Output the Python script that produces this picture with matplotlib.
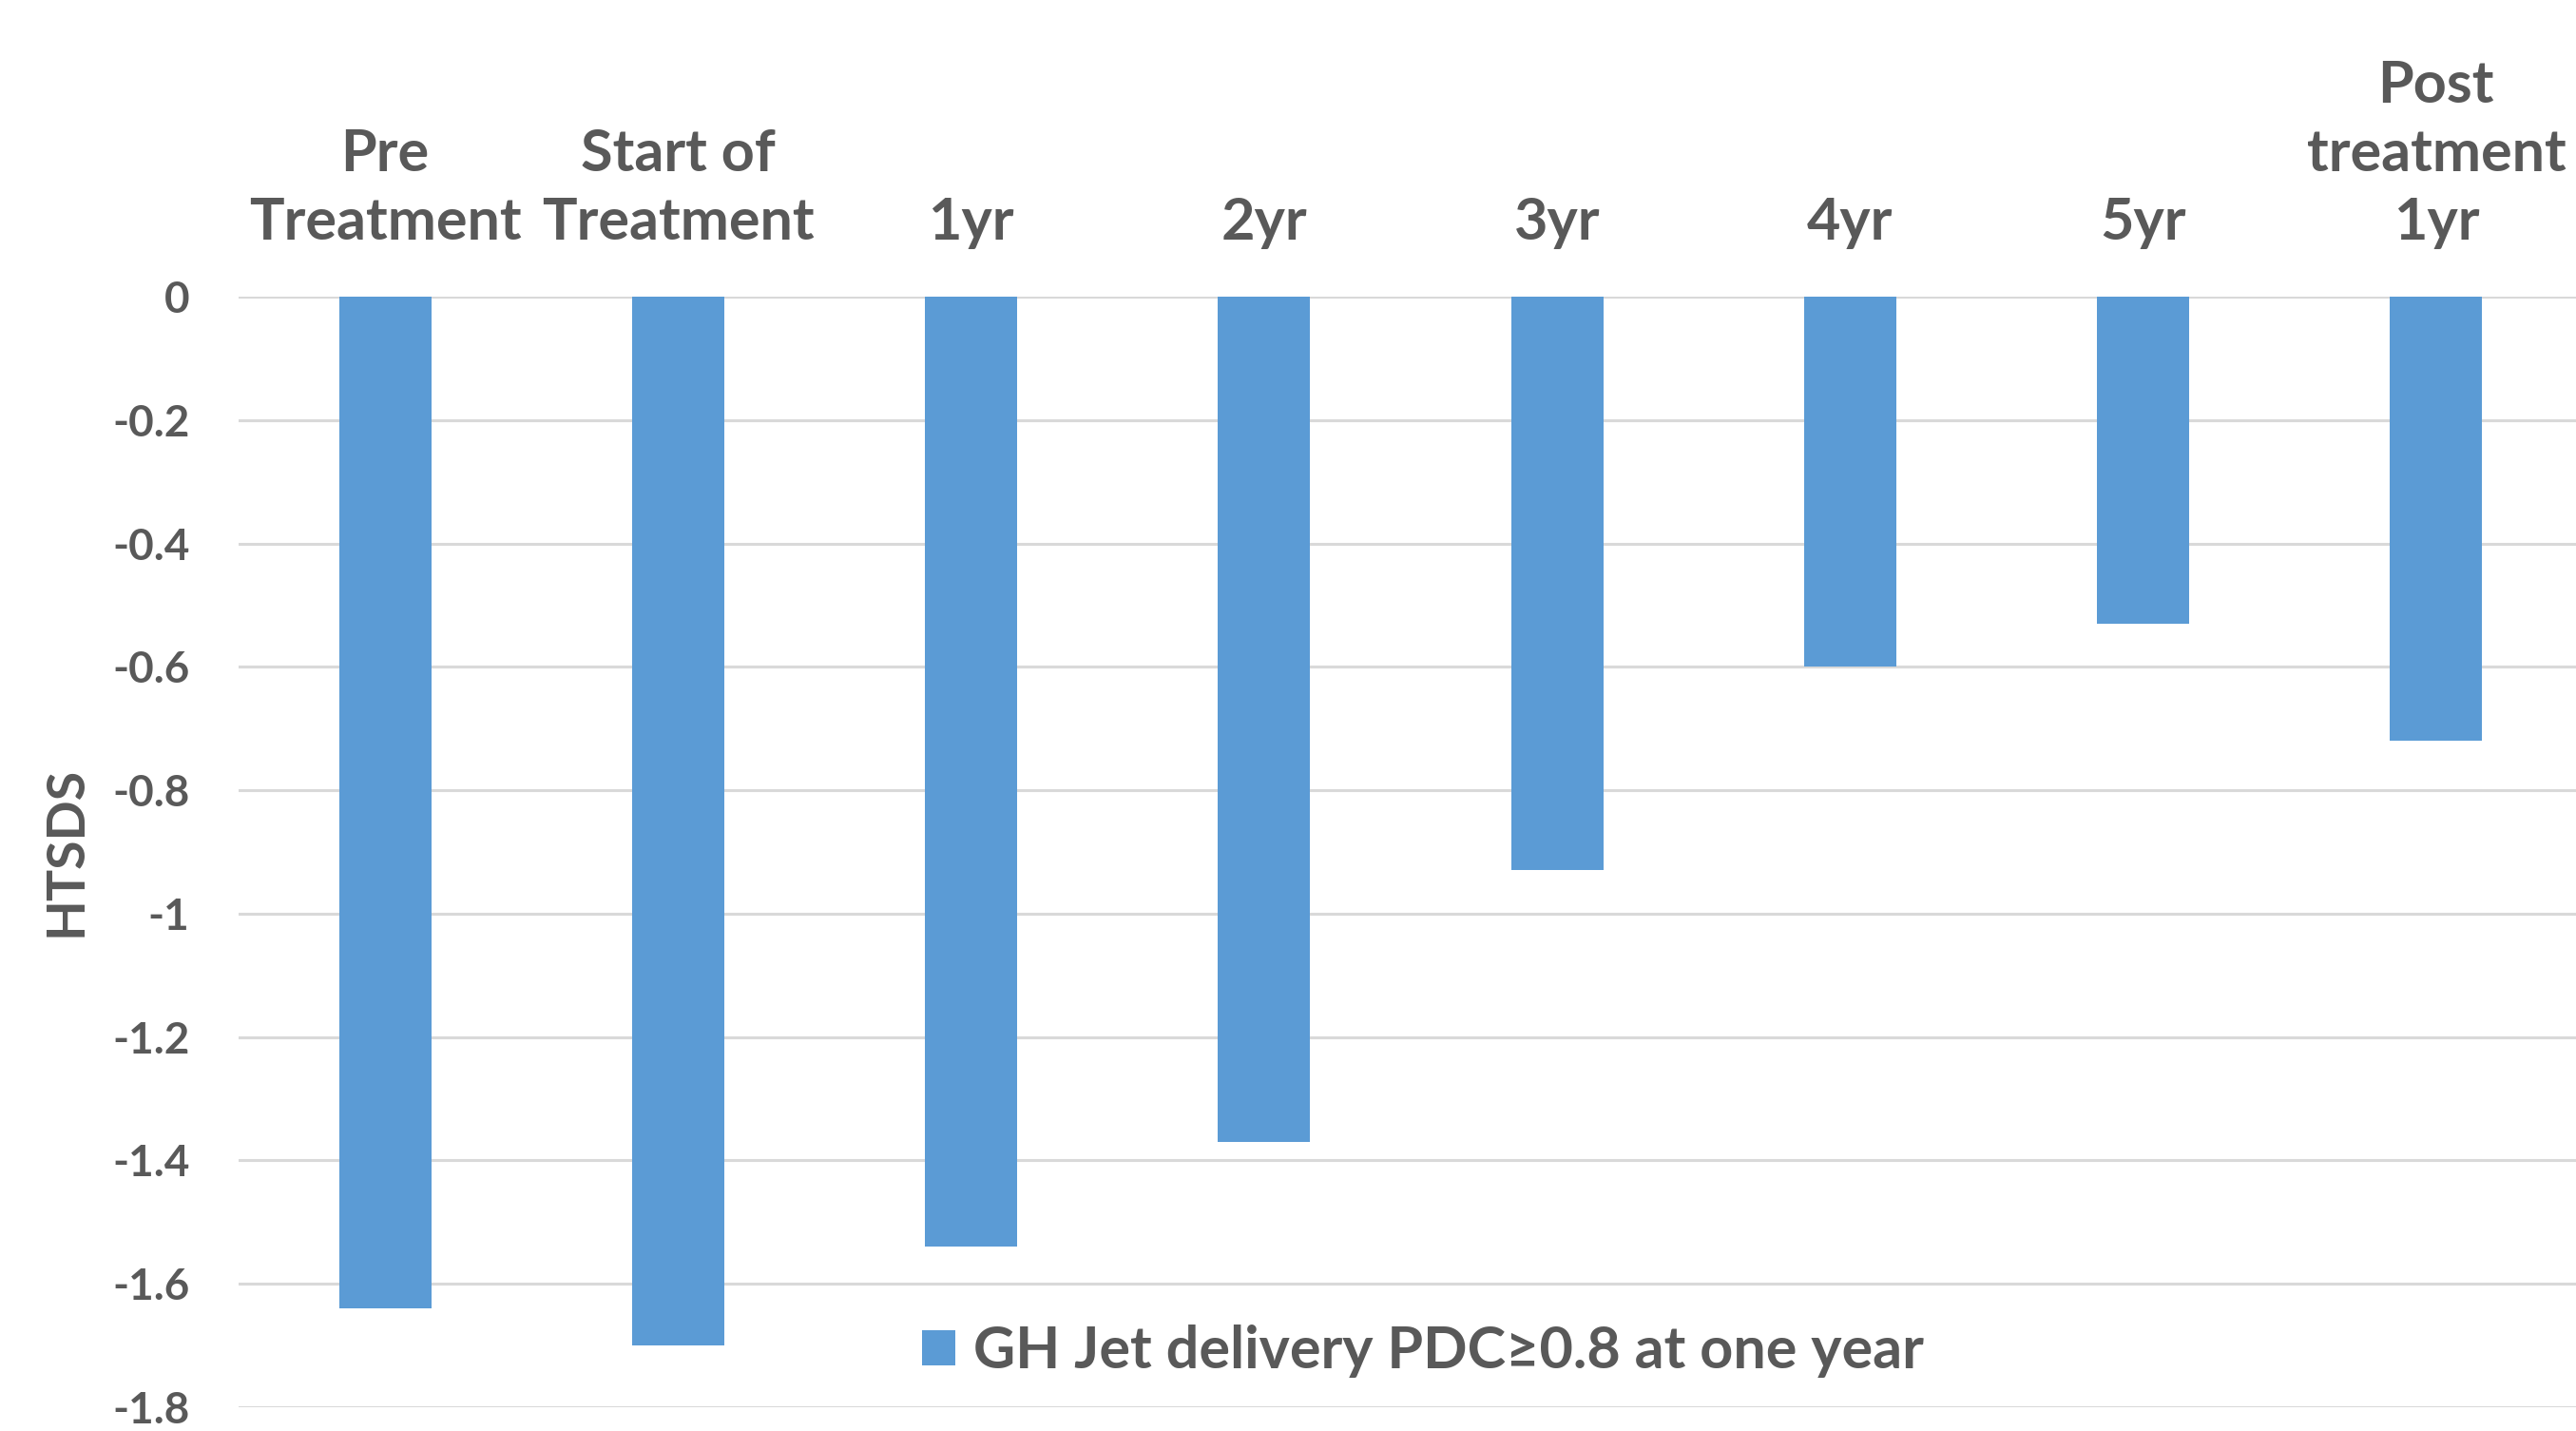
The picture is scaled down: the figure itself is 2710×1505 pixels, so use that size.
import matplotlib.pyplot as plt
import numpy as np

plt.rcParams['font.family'] = ['Lato', 'DejaVu Sans']
plt.rcParams['font.weight'] = 'bold'

categories = ["Pre\nTreatment", "Start of\nTreatment", "1yr", "2yr", "3yr", "4yr", "5yr",
              "Post\ntreatment\n1yr"]
htsds = [-1.64, -1.70, -1.54, -1.37, -0.93, -0.60, -0.53, -0.72]
y_ticks = [0, -0.2, -0.4, -0.6, -0.8, -1, -1.2, -1.4, -1.6, -1.8]
y_labels = ["0", "-0.2", "-0.4", "-0.6", "-0.8", "-1", "-1.2", "-1.4", "-1.6", "-1.8"]
series_name = "GH Jet delivery PDC\u22650.8 at one year"

W, H = 2710, 1505
fig = plt.figure(figsize=(W / 100, H / 100), dpi=100)
ax = fig.add_axes([251 / W, 25 / H, (2717 - 251) / W, (1480 - 312) / H])

text_col = "#595959"
x = np.arange(len(categories))
bars = ax.bar(x, htsds, width=0.315, color="#5B9BD5", zorder=3, label=series_name)

ax.set_xlim(-0.5, len(categories) - 0.5)
ax.set_ylim(-1.8, 0)
ax.set_yticks(y_ticks)
ax.set_yticklabels(y_labels)
ax.yaxis.grid(True, color="#D9D9D9", linewidth=2.2, zorder=0)
ax.set_axisbelow(True)

# category labels sit above the bars
ax.xaxis.tick_top()
ax.set_xticks(x)
ax.set_xticklabels(categories, fontsize=44, color=text_col, linespacing=1.35)
ax.tick_params(axis='x', length=0, pad=36)
ax.tick_params(axis='y', length=0, pad=37, labelsize=33, labelcolor=text_col)

for s in ax.spines.values():
    s.set_visible(False)

fig.text(69 / W, 1 - 895 / H, "HTSDS", rotation=90, ha='center', va='center',
         fontsize=40, fontweight='bold', color=text_col)

ax.legend(handles=[bars], loc='center left', bbox_to_anchor=(970 / W, 1 - 1421 / H),
          bbox_transform=fig.transFigure, frameon=False, fontsize=44,
          labelcolor=text_col, handlelength=0.57, handleheight=0.57, handletextpad=0.32,
          borderpad=0, borderaxespad=0)

plt.savefig("out.png", dpi=100)
